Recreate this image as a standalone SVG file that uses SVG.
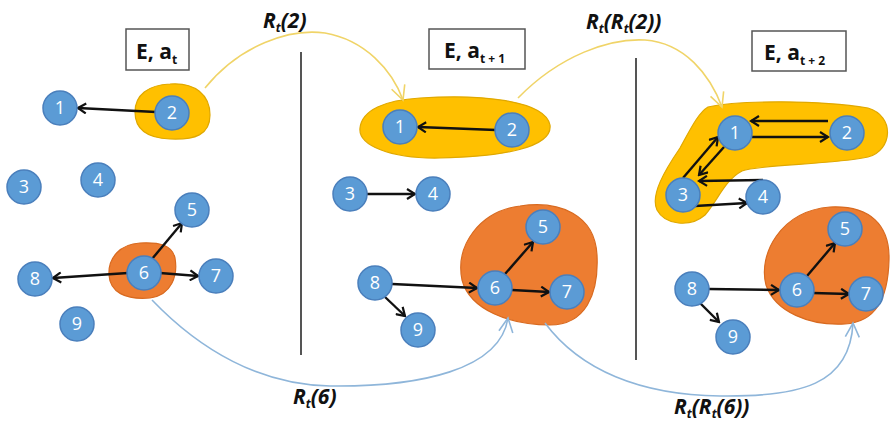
<svg xmlns="http://www.w3.org/2000/svg" width="891" height="422" viewBox="0 0 891 422">
<style>
.node circle{fill:#5b9bd5;stroke:#4a7fbc;stroke-width:1.5}
.node text{fill:#fff;font-family:"Open Sans","Liberation Sans",sans-serif;font-size:18px;text-anchor:middle}
.ylw{fill:#ffc000;stroke:#e0a800;stroke-width:1.2}
.org{fill:#ed7d31;stroke:#d86a20;stroke-width:1.2}
.box rect{fill:#fff;stroke:#555;stroke-width:1.5}
.box text{font-family:"Open Sans","Liberation Sans",sans-serif;font-weight:bold;font-size:21px;fill:#111}
.sub{font-size:12px}
.lbl{font-family:"Open Sans","Liberation Sans",sans-serif;font-weight:bold;font-style:italic;font-size:21px;fill:#111}
.edge{stroke:#111;stroke-width:2.4;fill:none;marker-end:url(#ah)}
.ycurve{stroke:#f0d468;stroke-width:1.6;fill:none;marker-end:url(#ay)}
.bcurve{stroke:#8fb6da;stroke-width:1.6;fill:none;marker-end:url(#ab)}
.divider{stroke:#555;stroke-width:2}
</style>
<defs>
<marker id="ah" markerUnits="userSpaceOnUse" markerWidth="12" markerHeight="12" refX="9" refY="5" orient="auto" viewBox="-1 -1 12 12">
<path d="M1,0 L9,5 L1,10" fill="none" stroke="#111" stroke-width="2.2"/>
</marker>
<marker id="ay" markerUnits="userSpaceOnUse" markerWidth="18" markerHeight="18" refX="14" refY="7" orient="auto" viewBox="-1 -1 18 18">
<path d="M0,0 L14,7 L0,14" fill="none" stroke="#f0d468" stroke-width="1.6"/>
</marker>
<marker id="ab" markerUnits="userSpaceOnUse" markerWidth="18" markerHeight="18" refX="14" refY="7" orient="auto" viewBox="-1 -1 18 18">
<path d="M0,0 L14,7 L0,14" fill="none" stroke="#8fb6da" stroke-width="1.6"/>
</marker>
</defs>
<rect width="891" height="422" fill="#fff"/>

<g id="groups">
<path class="ylw" d="M170,84 C195,82 210,95 210,115 C210,135 195,140 170,139 C145,138 135,128 135,112 C135,95 148,85 170,84 Z"/>
<path class="org" d="M140,243 C160,242 172,245 175,258 C178,275 172,295 150,298 C125,300 110,292 109,275 C108,258 120,244 140,243 Z"/>
<path class="ylw" d="M420,98 C480,94 545,100 550,125 C553,148 500,157 440,158 C390,159 358,145 360,128 C362,110 385,100 420,98 Z"/>
<path class="org" d="M520,206 C560,200 595,215 597,255 C599,295 585,325 550,325 C510,325 470,310 462,280 C455,245 480,211 520,206 Z"/>
<path class="ylw" d="M708,107 C740,100 820,100 868,108 C895,116 893,150 868,157 C830,165 762,164 742,171 C725,180 718,200 705,215 C690,228 665,225 657,210 C650,195 665,170 680,148 C690,130 698,113 708,107 Z"/>
<path class="org" d="M830,207 C870,205 890,225 889,260 C888,300 875,322 845,324 C810,326 775,312 766,285 C758,255 780,211 830,207 Z"/>
</g>

<g id="dividers">
<line class="divider" x1="301" y1="52" x2="301" y2="355"/>
<line class="divider" x1="636" y1="58" x2="636" y2="360"/>
</g>

<g id="connectors">
<line class="edge" x1="156" y1="112" x2="78" y2="108"/>
<line class="edge" x1="152" y1="259" x2="182" y2="223"/>
<line class="edge" x1="160" y1="273" x2="198" y2="276"/>
<line class="edge" x1="128" y1="273" x2="53" y2="278"/>
<line class="edge" x1="496" y1="130" x2="418" y2="127"/>
<line class="edge" x1="367" y1="194" x2="415" y2="194"/>
<line class="edge" x1="392" y1="284" x2="477" y2="288"/>
<line class="edge" x1="385" y1="297" x2="405" y2="316"/>
<line class="edge" x1="505" y1="274" x2="533" y2="242"/>
<line class="edge" x1="512" y1="290" x2="549" y2="292"/>
<line class="edge" x1="828" y1="121" x2="751" y2="121"/>
<line class="edge" x1="752" y1="137" x2="828" y2="137"/>
<line class="edge" x1="683" y1="178" x2="718" y2="137"/>
<line class="edge" x1="724" y1="147" x2="699" y2="175"/>
<line class="edge" x1="763" y1="180" x2="699" y2="181"/>
<line class="edge" x1="695" y1="206" x2="747" y2="203"/>
<line class="edge" x1="709" y1="289" x2="779" y2="290"/>
<line class="edge" x1="700" y1="303" x2="719" y2="322"/>
<line class="edge" x1="807" y1="276" x2="835" y2="243"/>
<line class="edge" x1="813" y1="293" x2="849" y2="294"/>
<path class="ycurve" d="M205,88 C240,45 290,28 325,33 C365,40 392,70 403,100"/>
<path class="ycurve" d="M518,98 C560,55 610,38 645,40 C685,43 710,75 722,107"/>
<path class="bcurve" d="M152,300 C200,350 260,385 330,386 C420,387 500,370 508,318"/>
<path class="bcurve" d="M545,323 C580,370 640,395 720,396 C800,397 850,385 853,323"/>
</g>

<g id="labels">
<text class="lbl" x="263" y="28">R<tspan class="sub" dy="4">t</tspan><tspan dy="-4">(2)</tspan></text>
<text class="lbl" x="586" y="29">R<tspan class="sub" dy="4">t</tspan><tspan dy="-4">(R</tspan><tspan class="sub" dy="4">t</tspan><tspan dy="-4">(2))</tspan></text>
<text class="lbl" x="293" y="404">R<tspan class="sub" dy="4">t</tspan><tspan dy="-4">(6)</tspan></text>
<text class="lbl" x="674" y="414">R<tspan class="sub" dy="4">t</tspan><tspan dy="-4">(R</tspan><tspan class="sub" dy="4">t</tspan><tspan dy="-4">(6))</tspan></text>
</g>

<g id="box1" class="box"><rect x="126" y="29" width="63" height="41"/><text x="136" y="59">E, a<tspan class="sub" dy="5">t</tspan></text></g>
<g id="box2" class="box"><rect x="429" y="29" width="96" height="40"/><text x="444" y="58">E, a<tspan class="sub" dy="5">t + 1</tspan></text></g>
<g id="box3" class="box"><rect x="752" y="31" width="94" height="40"/><text x="764" y="60">E, a<tspan class="sub" dy="5">t + 2</tspan></text></g>

<g id="p1n1" class="node"><circle cx="60" cy="108" r="17"/><text x="60" y="114">1</text></g>
<g id="p1n2" class="node"><circle cx="172" cy="113" r="17"/><text x="172" y="119">2</text></g>
<g id="p1n3" class="node"><circle cx="24" cy="187" r="17"/><text x="24" y="193">3</text></g>
<g id="p1n4" class="node"><circle cx="98" cy="180" r="17"/><text x="98" y="186">4</text></g>
<g id="p1n5" class="node"><circle cx="192" cy="210" r="17"/><text x="192" y="216">5</text></g>
<g id="p1n6" class="node"><circle cx="144" cy="273" r="17"/><text x="144" y="279">6</text></g>
<g id="p1n7" class="node"><circle cx="216" cy="276" r="17"/><text x="216" y="282">7</text></g>
<g id="p1n8" class="node"><circle cx="35" cy="279" r="17"/><text x="35" y="285">8</text></g>
<g id="p1n9" class="node"><circle cx="77" cy="324" r="17"/><text x="77" y="330">9</text></g>
<g id="p2n1" class="node"><circle cx="400" cy="127" r="17"/><text x="400" y="133">1</text></g>
<g id="p2n2" class="node"><circle cx="512" cy="130" r="17"/><text x="512" y="136">2</text></g>
<g id="p2n3" class="node"><circle cx="350" cy="194" r="17"/><text x="350" y="200">3</text></g>
<g id="p2n4" class="node"><circle cx="433" cy="194" r="17"/><text x="433" y="200">4</text></g>
<g id="p2n5" class="node"><circle cx="543" cy="227" r="17"/><text x="543" y="233">5</text></g>
<g id="p2n6" class="node"><circle cx="495" cy="288" r="17"/><text x="495" y="294">6</text></g>
<g id="p2n7" class="node"><circle cx="567" cy="292" r="17"/><text x="567" y="298">7</text></g>
<g id="p2n8" class="node"><circle cx="375" cy="283" r="17"/><text x="375" y="289">8</text></g>
<g id="p2n9" class="node"><circle cx="418" cy="330" r="17"/><text x="418" y="336">9</text></g>
<g id="p3n1" class="node"><circle cx="735" cy="133" r="17"/><text x="735" y="139">1</text></g>
<g id="p3n2" class="node"><circle cx="847" cy="133" r="17"/><text x="847" y="139">2</text></g>
<g id="p3n3" class="node"><circle cx="683" cy="195" r="17"/><text x="683" y="201">3</text></g>
<g id="p3n4" class="node"><circle cx="763" cy="197" r="17"/><text x="763" y="203">4</text></g>
<g id="p3n5" class="node"><circle cx="845" cy="229" r="17"/><text x="845" y="235">5</text></g>
<g id="p3n6" class="node"><circle cx="797" cy="290" r="17"/><text x="797" y="296">6</text></g>
<g id="p3n7" class="node"><circle cx="866" cy="294" r="17"/><text x="866" y="300">7</text></g>
<g id="p3n8" class="node"><circle cx="692" cy="289" r="17"/><text x="692" y="295">8</text></g>
<g id="p3n9" class="node"><circle cx="733" cy="337" r="17"/><text x="733" y="343">9</text></g>
</svg>
